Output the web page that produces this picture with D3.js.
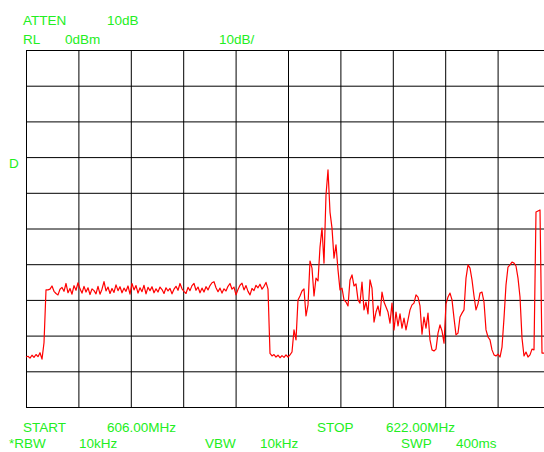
<!DOCTYPE html>
<html>
<head>
<meta charset="utf-8">
<script src="https://cdn.jsdelivr.net/npm/d3@7"></script>
<style>
  html, body { margin: 0; padding: 0; background: #fff; }
  svg { display: block; }
  .lbl { font-family: "Liberation Sans", Arial, sans-serif; font-size: 13.5px; fill: #22ee22; }
</style>
</head>
<body>
<div id="chart"></div>
<script>
// Analyzer settings
const startMHz = 606.0;
const stopMHz = 622.0;
const refLevelDbm = 0;
const dbPerDiv = 10;
const divisions = 10;

// Trace amplitude (dBm) at evenly spaced sweep points from START to STOP
const traceDbm = [
  -86.0,-85.8,-86.3,-85.5,-86.1,-85.3,-85.9,-84.8,-86.6,-82.0,
  -67.2,-67.2,-67.0,-66.1,-67.6,-68.2,-68.6,-67.0,-66.5,-67.6,
  -65.4,-68.0,-66.8,-68.4,-66.0,-67.3,-65.2,-66.9,-68.1,-66.2,
  -67.8,-66.6,-68.5,-66.9,-67.4,-68.3,-66.2,-68.4,-67.0,-64.9,
  -67.5,-66.4,-68.2,-66.8,-67.9,-65.8,-67.4,-66.3,-68.0,-66.7,
  -67.6,-66.1,-68.4,-65.4,-67.2,-66.0,-68.1,-66.6,-67.7,-65.9,
  -68.3,-66.5,-67.4,-66.3,-68.0,-66.9,-67.8,-66.4,-67.1,-68.2,
  -66.6,-67.5,-66.8,-68.3,-67.0,-66.2,-67.3,-65.4,-66.9,-67.6,
  -68.2,-66.5,-67.4,-66.0,-65.4,-67.3,-66.4,-68.0,-66.7,-67.8,
  -66.3,-67.2,-66.0,-65.2,-64.9,-66.6,-67.7,-66.7,-68.1,-66.9,
  -67.5,-66.2,-65.4,-67.0,-66.4,-68.6,-67.1,-65.9,-65.3,-67.2,
  -66.0,-67.6,-68.6,-66.8,-67.4,-65.9,-66.6,-65.6,-67.0,-66.2,
  -65.1,-67.0,-85.0,-85.7,-85.3,-86.0,-85.5,-86.2,-85.6,-86.1,
  -85.4,-86.0,-85.4,-84.6,-78.4,-81.2,-70.0,-68.9,-67.5,-66.9,
  -74.5,-71.4,-59.1,-61.1,-68.9,-63.9,-64.7,-55.2,-49.9,-59.7,
  -40.6,-33.6,-45.4,-49.9,-58.3,-54.6,-61.6,-67.2,-66.7,-70.0,
  -70.6,-71.7,-64.4,-63.0,-66.1,-65.5,-70.0,-70.9,-65.0,-72.8,
  -70.6,-73.9,-64.4,-66.7,-76.2,-73.4,-71.7,-74.5,-67.8,-70.6,
  -72.0,-73.4,-76.5,-70.9,-78.4,-73.4,-77.3,-73.9,-77.9,-75.1,
  -78.4,-75.6,-72.8,-71.4,-70.9,-68.6,-69.2,-71.7,-79.6,-74.8,
  -77.9,-73.7,-81.2,-84.0,-84.3,-83.8,-79.3,-77.0,-78.7,-82.1,
  -71.1,-69.2,-68.1,-70.0,-75.1,-79.8,-79.3,-74.8,-73.7,-72.8,
  -63.9,-60.2,-61.1,-64.4,-68.9,-72.8,-71.1,-68.1,-67.8,-70.6,
  -78.4,-80.4,-81.2,-84.0,-85.4,-85.7,-85.2,-86.0,-83.2,-75.1,
  -65.8,-60.8,-60.2,-59.4,-59.7,-60.5,-63.9,-69.2,-80.7,-85.7,
  -84.6,-86.0,-85.4,-83.8,-84.0,-45.4,-45.1,-44.8,-84.9,-84.9,
  -85.0,-85.4,-85.2
];

// Annotation text: [text, x, baseline y]
const headerLabels = [
  ["ATTEN", 23, 25], ["10dB", 107, 25],
  ["RL", 23, 44], ["0dBm", 65, 44], ["10dB/", 219, 44],
  ["D", 9, 168]
];
const footerLabels = [
  ["START", 23, 432], ["606.00MHz", 107, 432],
  ["STOP", 317, 432], ["622.00MHz", 386, 432],
  ["*RBW", 9, 448], ["10kHz", 79, 448],
  ["VBW", 205, 448], ["10kHz", 260, 448],
  ["SWP", 401, 448], ["400ms", 456, 448]
];

const W = 544, H = 452;
const plotLeft = 26, plotTop = 50, gridW = 524, gridH = 357;

const svg = d3.select("#chart").append("svg")
  .attr("width", W).attr("height", H);

const x = d3.scaleLinear().domain([startMHz, stopMHz]).range([plotLeft, plotLeft + gridW]);
const y = d3.scaleLinear()
  .domain([refLevelDbm - divisions * dbPerDiv, refLevelDbm])
  .range([plotTop + gridH, plotTop]);

const freqTicks = d3.range(divisions + 1).map(i => startMHz + i * (stopMHz - startMHz) / divisions);
const levelTicks = d3.range(divisions + 1).map(i => refLevelDbm - i * dbPerDiv);

// Graticule built from axes with full-length ticks
const gx = svg.append("g")
  .attr("transform", `translate(0,${plotTop + gridH})`)
  .call(d3.axisBottom(x).tickValues(freqTicks).tickSize(-gridH).tickFormat(""));
const gy = svg.append("g")
  .attr("transform", `translate(${plotLeft},0)`)
  .call(d3.axisLeft(y).tickValues(levelTicks).tickSize(-gridW).tickFormat(""));
[gx, gy].forEach(g => {
  g.select(".domain").remove();
  g.selectAll(".tick line").attr("stroke", "#000").attr("stroke-width", 1);
});

// Spectrum trace
const step = (stopMHz - startMHz) / (traceDbm.length - 1);
const line = d3.line()
  .x((d, i) => x(startMHz + i * step))
  .y(d => y(d));
svg.append("path")
  .datum(traceDbm)
  .attr("fill", "none")
  .attr("stroke", "#ff0000")
  .attr("stroke-width", 1.2)
  .attr("stroke-linejoin", "round")
  .attr("d", line);

// Instrument annotations
svg.append("g").selectAll("text")
  .data(headerLabels.concat(footerLabels))
  .join("text")
  .attr("class", "lbl")
  .attr("x", d => d[1])
  .attr("y", d => d[2])
  .text(d => d[0]);
</script>
</body>
</html>
